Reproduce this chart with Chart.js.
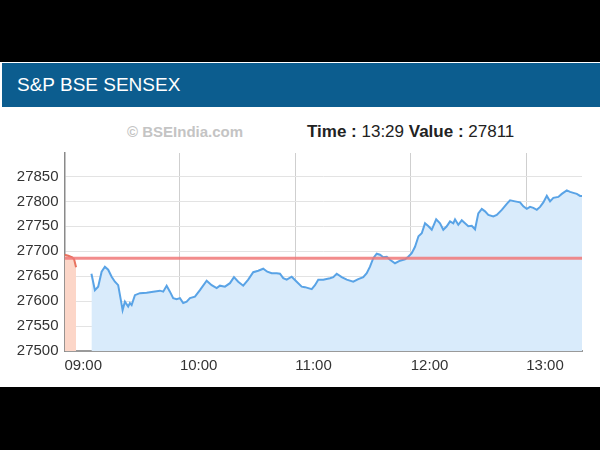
<!DOCTYPE html>
<html><head><meta charset="utf-8">
<script src="https://cdn.jsdelivr.net/npm/chart.js@4"></script>
<style>
html,body{margin:0;padding:0;background:#000;width:600px;height:450px;overflow:hidden;font-family:"Liberation Sans",Arial,sans-serif}
#panel{position:absolute;left:0;top:62px;width:600px;height:325px;background:#fff}
#head{position:absolute;left:2px;top:63px;width:598px;height:44px;background:#0c5d8f;color:#fff;font-size:19px;line-height:44px;text-indent:15px}
#wm{position:absolute;left:127px;top:123px;font-size:15px;font-weight:bold;color:#c4c4c4}
#info{position:absolute;left:307px;top:122px;font-size:17px;color:#222}
#info b{font-weight:bold}
#wrap{position:absolute;left:0;top:0;width:600px;height:450px}
</style></head><body>
<div id="panel"></div>
<div id="head">S&amp;P BSE SENSEX</div>
<div id="wm">© BSEIndia.com</div>
<div id="info"><b>Time :</b> 13:29 <b>Value :</b> 27811</div>
<div id="wrap"><canvas id="c" width="600" height="450"></canvas></div>
<script>
// minutes since midnight
const tickMinutes = [540, 600, 660, 720, 780];
const yTicks = [27500, 27550, 27600, 27650, 27700, 27750, 27800, 27850];
const prevClose = 27686;
const preOpenMinutes = [540, 542, 544, 545, 546];
const preOpenValues  = [27693, 27691, 27688, 27684, 27668];
const sessionMinutes = [554,555.8,557.5,559.3,561,562.7,564.5,566.2,567.9,569.3,570.2,571.4,573.1,574,574.9,576.6,579.2,582.7,586.1,589.6,591.3,593.1,594.8,596.5,598.3,600,601.7,603.5,605.2,607.8,610.4,613.9,616.5,619.1,620.8,623.4,626,628.1,630.3,632.9,635.5,638.1,640.7,643.3,645.4,647.7,650.3,652,653.7,655.5,658.1,660.7,663.3,665,668.5,670.2,671.9,674.5,678,679.7,681.5,684.1,686.7,690.1,692.7,695.3,697.1,698.8,700.5,702.3,704,705.7,707.5,709.2,711.8,714.4,717,718.7,720.5,722.2,724,725.7,727.4,729.2,730.9,733.2,735.2,736.9,738.7,740.4,742.1,743,744.7,746.5,748.2,749.9,751.7,753.4,755.1,756.9,758.6,760.3,762.9,764.7,767.3,769.9,771.6,774.2,776.8,778.5,780.3,782,783.7,785.5,787.2,788.9,790.7,792.4,794.1,796.7,798.5,801.1,802.8,804.5,806.3,808,809];
const sessionValues = [27655,27622,27629,27659,27669,27663,27649,27639,27632,27602,27582,27599,27589,27596,27592,27612,27616,27617,27619,27621,27619,27631,27619,27606,27604,27606,27596,27599,27606,27609,27622,27641,27632,27626,27631,27629,27636,27648,27639,27631,27643,27658,27661,27665,27659,27656,27656,27655,27646,27643,27649,27639,27629,27628,27624,27632,27643,27643,27646,27648,27655,27648,27643,27639,27644,27648,27656,27669,27686,27695,27693,27688,27689,27683,27676,27681,27684,27689,27696,27709,27730,27736,27756,27750,27743,27764,27756,27743,27750,27760,27756,27764,27753,27762,27756,27750,27751,27744,27776,27785,27780,27773,27770,27773,27783,27795,27802,27800,27798,27790,27785,27789,27787,27783,27789,27798,27811,27800,27807,27809,27815,27822,27819,27817,27815,27811,27811];
const xMin = 540, xMax = 809, yMin = 27500, yMax = 27897;

const pts = (xs, ys) => xs.map((x, i) => ({x, y: ys[i]}));
const fmt = m => String(Math.floor(m/60)).padStart(2,'0') + ':' + String(Math.round(m%60)).padStart(2,'0');

new Chart(document.getElementById('c'), {
  type: 'line',
  data: {
    datasets: [
      {data: pts([xMin, xMax], [prevClose, prevClose]), borderColor: 'rgba(240,120,120,0.85)', borderWidth: 3, fill: false, pointRadius: 0},
      {data: pts(sessionMinutes, sessionValues), borderColor: '#59a3e6', borderWidth: 2, backgroundColor: '#d9ebfb', fill: 'start', pointRadius: 0, tension: 0},
      {data: pts(preOpenMinutes, preOpenValues), borderColor: '#e8735f', borderWidth: 2, backgroundColor: '#fcd6c8', fill: 'start', pointRadius: 0, tension: 0}
    ]
  },
  options: {
    responsive: false, animation: false,
    layout: {padding: {left: 0, right: 18, top: 153, bottom: 0}},
    plugins: {legend: {display: false}, tooltip: {enabled: false}},
    scales: {
      x: {type: 'linear', min: xMin, max: xMax,
        afterBuildTicks: s => { s.ticks = tickMinutes.map(v => ({value: v})); },
        afterFit: s => { s.height = 99; },
        ticks: {callback: v => fmt(v), align: 'start', padding: 6, color: '#333', font: {family: 'Liberation Sans', size: 15}, maxRotation: 0},
        grid: {color: '#cfcfcf', drawTicks: false},
        border: {color: '#9a9a9a', width: 2}
      },
      y: {min: yMin, max: yMax,
        afterBuildTicks: s => { s.ticks = yTicks.map(v => ({value: v})); },
        afterFit: s => { s.width = 64.5; },
        ticks: {callback: v => String(v), padding: 6, color: '#333', font: {family: 'Liberation Sans', size: 15}},
        grid: {color: '#e3e3e3', drawTicks: false},
        border: {color: '#8a8a8a', width: 1.5}
      }
    }
  }
});
</script>
</body></html>
